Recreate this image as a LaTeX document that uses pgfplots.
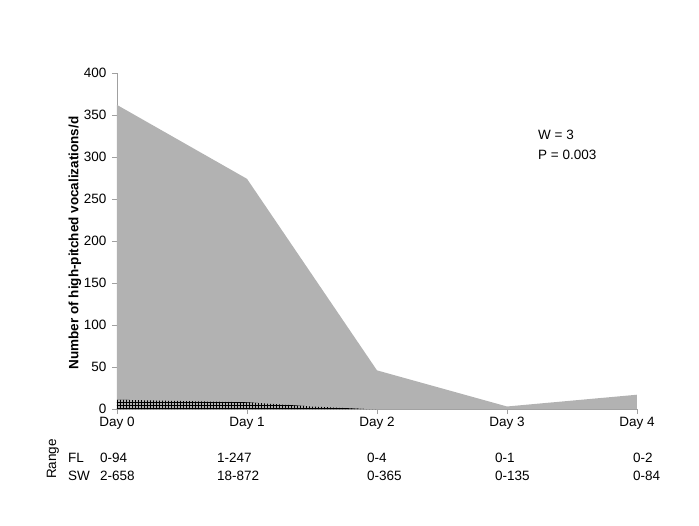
\documentclass[border=0pt]{standalone}
\usepackage{pgfplots}
\pgfplotsset{compat=1.18}
\usepackage{fontspec}
\setmainfont{Liberation Sans}
\usetikzlibrary{patterns}
\definecolor{areagray}{RGB}{178,178,178}
\definecolor{axisgray}{RGB}{160,160,160}
\begin{document}
\begin{tikzpicture}[x=1pt,y=1pt]
\path[use as bounding box] (-117,-116) rectangle (582,409);
\begin{axis}[
  at={(0,0)}, anchor=south west, scale only axis,
  width=520pt, height=336pt,
  xmin=0, xmax=4, ymin=0, ymax=400,
  axis lines*=left,
  axis line style={axisgray, line width=0.8pt},
  tick style={axisgray, line width=0.8pt},
  tick align=outside, major tick length=5pt,
  xtick={0,1,2,3,4},
  xticklabels={Day 0,Day 1,Day 2,Day 3,Day 4},
  ytick={0,50,...,400},
  /pgf/number format/assume math mode=true,
  tick label style={font=\fontsize{13.5}{16}\selectfont, black},
  yticklabel style={xshift=-2pt},
  clip=false,
]
\addplot[fill=areagray, draw=none] coordinates {(0,362) (1,274) (2,46) (3,3) (4,17)} \closedcycle;
\addplot[pattern=grid, pattern color=black, draw=none] coordinates {(0,11) (1,8) (1.5,3) (1.9,0) (2,0)} \closedcycle;
\end{axis}
\node[rotate=90, font=\bfseries\fontsize{13.5}{16}\selectfont] at (-42,166) {Number of high-pitched vocalizations/d};
\begin{scope}[every node/.style={anchor=west, font=\fontsize{13.5}{16}\selectfont, inner sep=0pt}]
\node at (421,274) {W = 3};
\node at (421,254) {P = 0.003};
\node at (-49,-49) {FL};
\node at (-49,-67) {SW};
\node at (-17,-49) {0-94};
\node at (-17,-67) {2-658};
\node at (100,-49) {1-247};
\node at (100,-67) {18-872};
\node at (250,-49) {0-4};
\node at (250,-67) {0-365};
\node at (378,-49) {0-1};
\node at (378,-67) {0-135};
\node at (516,-49) {0-2};
\node at (516,-67) {0-84};
\end{scope}
\node[rotate=90, font=\fontsize{13.5}{16}\selectfont, inner sep=0pt] at (-64,-50) {Range};
\end{tikzpicture}
\end{document}
